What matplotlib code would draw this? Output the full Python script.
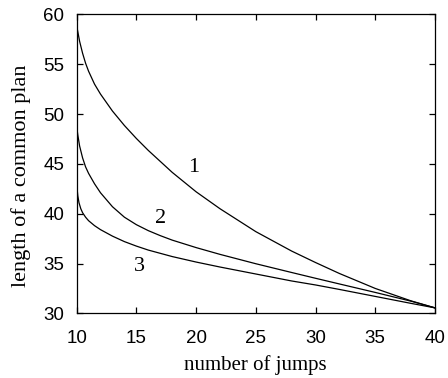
import matplotlib
matplotlib.use("Agg")
import matplotlib.pyplot as plt

# values
x1 = [10, 10.25, 10.5, 10.75, 11, 11.5, 12, 13, 14, 15, 16, 18, 20, 22, 25, 28, 30, 32, 35, 38, 40]
curve1 = [58.9, 57.3, 56.1, 55.1, 54.3, 53.0, 52.0, 50.3, 48.85, 47.55, 46.35, 44.15, 42.2, 40.5,
          38.2, 36.25, 35.1, 34.0, 32.5, 31.25, 30.55]

x2 = [10, 10.1, 10.25, 10.5, 10.75, 11, 11.5, 12, 13, 14, 15, 16, 17, 18, 20, 22, 25, 28, 30, 32, 35, 38, 40]
curve2 = [48.8, 47.9, 46.8, 45.6, 44.7, 44.05, 43.0, 42.1, 40.7, 39.65, 38.9, 38.3, 37.8, 37.35,
          36.6, 35.92, 34.98, 34.1, 33.52, 32.95, 32.1, 31.22, 30.55]

x3 = [10, 10.05, 10.1, 10.2, 10.35, 10.5, 10.75, 11, 11.5, 12, 13, 14, 15, 16, 18, 20, 22, 25, 28, 30, 32, 35, 38, 40]
curve3 = [43.3, 42.4, 41.8, 41.1, 40.5, 40.1, 39.65, 39.3, 38.8, 38.4, 37.75, 37.2, 36.75, 36.35,
          35.7, 35.15, 34.65, 33.95, 33.25, 32.85, 32.4, 31.7, 31.0, 30.55]

labels = ["1", "2", "3"]
label_x = [19.8, 17.0, 15.3]
label_y = [44.6, 39.5, 34.7]

xticks = [10, 15, 20, 25, 30, 35, 40]
yticks = [30, 35, 40, 45, 50, 55, 60]

fig = plt.figure(figsize=(4.48, 3.78), dpi=100)
ax = fig.add_axes([0.171, 0.171, 0.8, 0.791])

for xs, ys in [(x1, curve1), (x2, curve2), (x3, curve3)]:
    ax.plot(xs, ys, color="black", linewidth=0.9)

for t, tx, ty in zip(labels, label_x, label_y):
    ax.text(tx, ty, t, fontsize=16, family="Liberation Serif", ha="center", va="center")

ax.set_xlim(10, 40)
ax.set_ylim(30, 60)
ax.set_xticks(xticks)
ax.set_yticks(yticks)
ax.tick_params(direction="in", top=True, right=True, length=4, width=0.9)
ax.tick_params(axis="x", pad=12)
ax.tick_params(axis="y", pad=9)
for lab in ax.get_xticklabels() + ax.get_yticklabels():
    lab.set_family("Liberation Sans")
    lab.set_fontsize(13.5)
for sp in ax.spines.values():
    sp.set_linewidth(0.9)

ax.set_xlabel("number of jumps", fontsize=15, family="Liberation Serif", labelpad=6)
ax.set_ylabel("length of a common plan", fontsize=16, family="Liberation Serif")
ax.yaxis.set_label_coords(-0.128, 0.459)

fig.savefig("out.png", dpi=100)
